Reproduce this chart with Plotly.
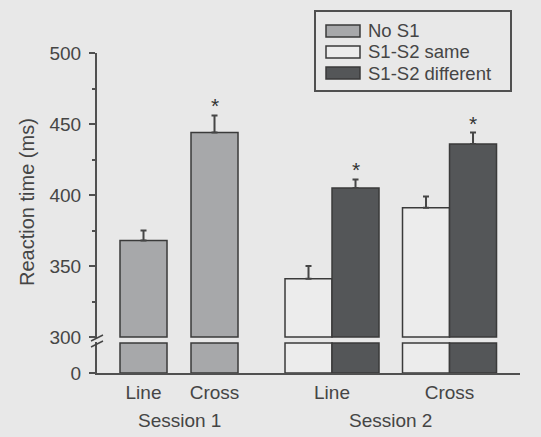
import plotly.graph_objects as go

# ---------------- data ----------------
conditions = ["Line", "Cross"]
sessions = ["Session 1", "Session 2"]
series_names = ["No S1", "S1-S2 same", "S1-S2 different"]

s1_noS1 = [368, 444]
s1_noS1_se = [7, 12]
s1_noS1_sig = [False, True]

s2_same = [341, 391]
s2_same_se = [9, 8]
s2_same_sig = [False, False]

s2_diff = [405, 436]
s2_diff_se = [6, 8]
s2_diff_sig = [True, True]

y_ticks = [300, 350, 400, 450, 500]
BREAK = 300

# ---------------- style / layout ----------------
W, H = 541, 437
ML, MR, MT, MB = 97, 21, 53, 64
PW, PH = W - ML - MR, H - MT - MB

BG = "#e8e8e8"
TXT = "#454545"
EDGE = "#3a3a3a"
AX = "#505050"
COL = ["#a7a8aa", "#ececec", "#545658"]
FONT = "Liberation Sans, Arial, sans-serif"

s1_pos = [1.0, 2.0]
s2_pos = [3.655, 5.31]
BW = 0.662
XR = [0.345, 0.345 + PW / 71.0]


def px_x(p):
    return (p - ML) / PW


def px_y(p):
    return (H - MB - p) / PH


fig = go.Figure()

series = [
    (series_names[0], s1_pos, s1_noS1, s1_noS1_se, s1_noS1_sig, -BW / 2, COL[0]),
    (series_names[1], s2_pos, s2_same, s2_same_se, s2_same_sig, -BW, COL[1]),
    (series_names[2], s2_pos, s2_diff, s2_diff_se, s2_diff_sig, 0.0, COL[2]),
]

annotations = []
for name, xs, vals, se, sig, off, col in series:
    # upper panel bars (from the axis break upward)
    fig.add_trace(go.Bar(
        x=xs, y=[v - BREAK for v in vals], base=[BREAK] * len(vals),
        offset=off, width=BW, marker=dict(color=col, line=dict(color=EDGE, width=1.5)),
        name=name, showlegend=False, xaxis="x", yaxis="y",
        customdata=vals, hovertemplate="%{customdata}<extra>" + name + "</extra>",
    ))
    # lower panel bars (0 up to the break)
    fig.add_trace(go.Bar(
        x=xs, y=[min(v, BREAK) for v in vals],
        offset=off, width=BW, marker=dict(color=col, line=dict(color=EDGE, width=1.5)),
        name=name, showlegend=False, xaxis="x", yaxis="y2", hoverinfo="skip",
    ))
    centers = [x + off + BW / 2 for x in xs]
    # error bars (upper only)
    fig.add_trace(go.Scatter(
        x=centers, y=vals, mode="markers",
        marker=dict(size=1, color="rgba(0,0,0,0)"),
        error_y=dict(type="data", array=se, arrayminus=[0] * len(se), symmetric=False,
                     color=TXT, thickness=2, width=3),
        showlegend=False, hoverinfo="skip", xaxis="x", yaxis="y",
    ))
    for c, v, e, s in zip(centers, vals, se, sig):
        if s:
            annotations.append(dict(
                x=c, y=v + e, xref="x", yref="y", text="*", showarrow=False,
                yanchor="bottom", yshift=-4, font=dict(size=21, color="#333333", family=FONT),
            ))

# category tick labels & session labels
tickvals = s1_pos + s2_pos
ticktext = conditions + conditions
for sess, xs in zip(sessions, [s1_pos, s2_pos]):
    annotations.append(dict(
        x=sum(xs) / len(xs), y=px_y(420), xref="x", yref="paper", text=sess,
        showarrow=False, yanchor="middle", font=dict(size=19, color=TXT, family=FONT),
    ))

# y-axis title
annotations.append(dict(
    x=px_x(27), y=px_y(202), xref="paper", yref="paper", text="Reaction time (ms)",
    textangle=-90, showarrow=False, xanchor="center", yanchor="middle",
    font=dict(size=20, color=TXT, family=FONT),
))

# manual legend
shapes = [dict(type="rect", xref="paper", yref="paper",
               x0=px_x(315), x1=px_x(511), y0=px_y(91), y1=px_y(11),
               line=dict(color=AX, width=2), fillcolor=BG, layer="above")]
row_y = [31, 52, 73]
for name, col, ry in zip(series_names, COL, row_y):
    shapes.append(dict(type="rect", xref="paper", yref="paper",
                       x0=px_x(326), x1=px_x(360), y0=px_y(ry + 6), y1=px_y(ry - 6),
                       line=dict(color=EDGE, width=1.5), fillcolor=col, layer="above"))
    annotations.append(dict(x=px_x(367), y=px_y(ry), xref="paper", yref="paper",
                            text=name, showarrow=False, xanchor="left", yanchor="middle",
                            borderpad=0, font=dict(size=18.5, color=TXT, family=FONT)))

# axis break marks
for dy in (0, 6):
    shapes.append(dict(type="line", xref="paper", yref="paper",
                       x0=px_x(91), y0=px_y(341 + dy), x1=px_x(103), y1=px_y(335 + dy),
                       line=dict(color=TXT, width=1.5)))

upper_bottom = (H - MB - 338) / PH
lower_top = (H - MB - 342) / PH

fig.update_layout(
    width=W, height=H,
    margin=dict(l=ML, r=MR, t=MT, b=MB),
    paper_bgcolor=BG, plot_bgcolor=BG,
    barmode="overlay",
    showlegend=False,
    font=dict(family=FONT, color=TXT, size=19),
    xaxis=dict(range=XR, tickvals=tickvals, ticktext=ticktext, showline=True,
               linecolor=AX, linewidth=2, ticks="", showgrid=False, zeroline=False,
               anchor="y2", ticklabelstandoff=1, tickfont=dict(size=19, color=TXT),
               fixedrange=True),
    yaxis=dict(domain=[upper_bottom, 1], range=[299.3, 500], tickvals=y_ticks,
               showline=True, linecolor=AX, linewidth=2, ticks="outside", ticklen=6,
               tickwidth=1.5, tickcolor=AX,
               minor=dict(dtick=25, tick0=0, ticks="outside", ticklen=3, tickcolor=AX,
                          showgrid=False),
               showgrid=False, zeroline=False, ticklabelstandoff=4,
               tickfont=dict(size=19, color=TXT), fixedrange=True),
    yaxis2=dict(domain=[0, lower_top], range=[0, 310], tickvals=[0], ticktext=["0"],
                showline=True, linecolor=AX, linewidth=2, ticks="outside", ticklen=6,
                tickwidth=1.5, tickcolor=AX, showgrid=False, zeroline=False,
                ticklabelstandoff=4, tickfont=dict(size=19, color=TXT), fixedrange=True,
                anchor="x"),
    annotations=annotations,
    shapes=shapes,
)

fig.write_html("out.html")
